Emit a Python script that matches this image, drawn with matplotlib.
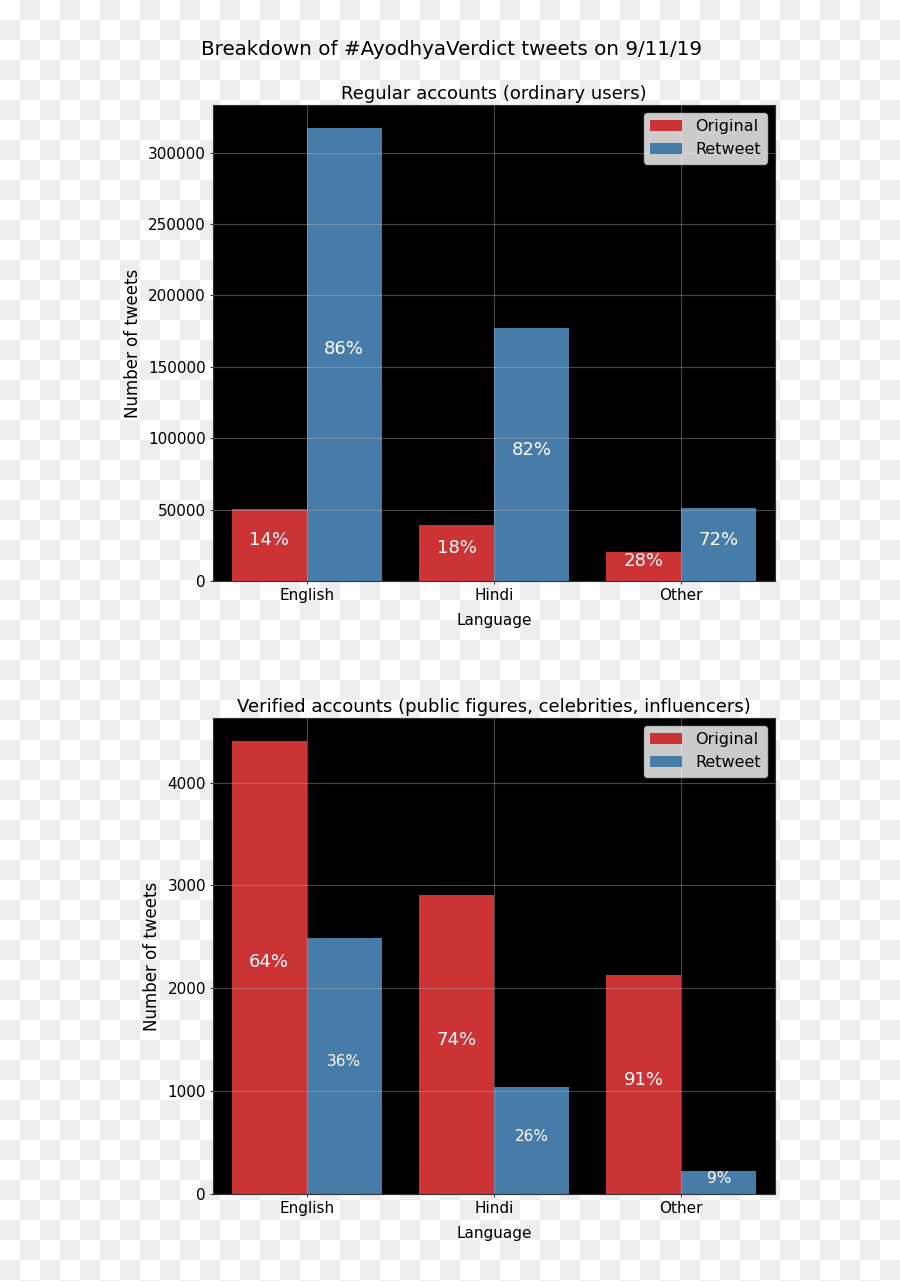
import numpy as np
import matplotlib
matplotlib.use("Agg")
import matplotlib.pyplot as plt

languages = ["English", "Hindi", "Other"]
regular_original = [50300, 39200, 20300]
regular_retweet = [317500, 176900, 51000]
verified_original = [4408, 2903, 2126]
verified_retweet = [2485, 1039, 223]
series_names = ["Original", "Retweet"]
suptitle = "Breakdown of #AyodhyaVerdict tweets on 9/11/19"
titles = ["Regular accounts (ordinary users)",
          "Verified accounts (public figures, celebrities, influencers)"]

RED = "#cb3335"
BLUE = "#477ca8"

W, H = 900, 1281
fig = plt.figure(figsize=(W / 100, H / 100), dpi=100)

# checkerboard background (transparency pattern)
rr, cc = np.mgrid[0:H, 0:W]
board = np.where(((rr // 20) + (cc // 20)) % 2 == 0, 1.0, 0.937)
bg = np.dstack([board, board, board])
fig.figimage(bg, xo=0, yo=0, origin="upper", zorder=-1)

fig.suptitle(suptitle, x=0.502, y=0.961, fontsize=14.3, va="center")

panels = [
    (regular_original, regular_retweet, titles[0], [0.2367, 0.5465, 0.6244, 0.3716], (13, 13)),
    (verified_original, verified_retweet, titles[1], [0.2367, 0.0679, 0.6244, 0.3716], (13, 11)),
]

x = np.arange(len(languages))
bw = 0.4
for orig, rt, title, rect, fsz in panels:
    ax = fig.add_axes(rect)
    ax.set_facecolor("black")
    ax.bar(x - bw / 2, orig, width=bw, color=RED, label=series_names[0], zorder=1)
    ax.bar(x + bw / 2, rt, width=bw, color=BLUE, label=series_names[1], zorder=1)
    for i in range(len(languages)):
        tot = orig[i] + rt[i]
        ax.text(x[i] - bw / 2, orig[i] / 2, f"{round(100 * orig[i] / tot)}%",
                ha="center", va="baseline", color="white", fontsize=fsz[0], zorder=3)
        ax.text(x[i] + bw / 2, rt[i] / 2, f"{round(100 * rt[i] / tot)}%",
                ha="center", va="baseline", color="white", fontsize=fsz[1], zorder=3)
    ax.set_xlim(-0.5, len(languages) - 0.5)
    ax.set_xticks(x)
    ax.set_xticklabels(languages, fontsize=11)
    ax.tick_params(axis="y", labelsize=11)
    ax.tick_params(colors="#333333", labelcolor="black", length=2.5, pad=2.5, width=0.7)
    ax.set_xlabel("Language", fontsize=11, labelpad=7.5)
    ax.set_ylabel("Number of tweets", fontsize=12, labelpad=4.5)
    ax.set_title(title, fontsize=13, pad=4.5)
    ax.grid(True, color="#b0b0b0", alpha=0.4, linewidth=0.8, zorder=2)
    ax.set_axisbelow(False)
    for s in ax.spines.values():
        s.set_color("#333333")
    ax.legend(loc="upper right", fontsize=11.5)

fig.savefig("out.png", dpi=100)
